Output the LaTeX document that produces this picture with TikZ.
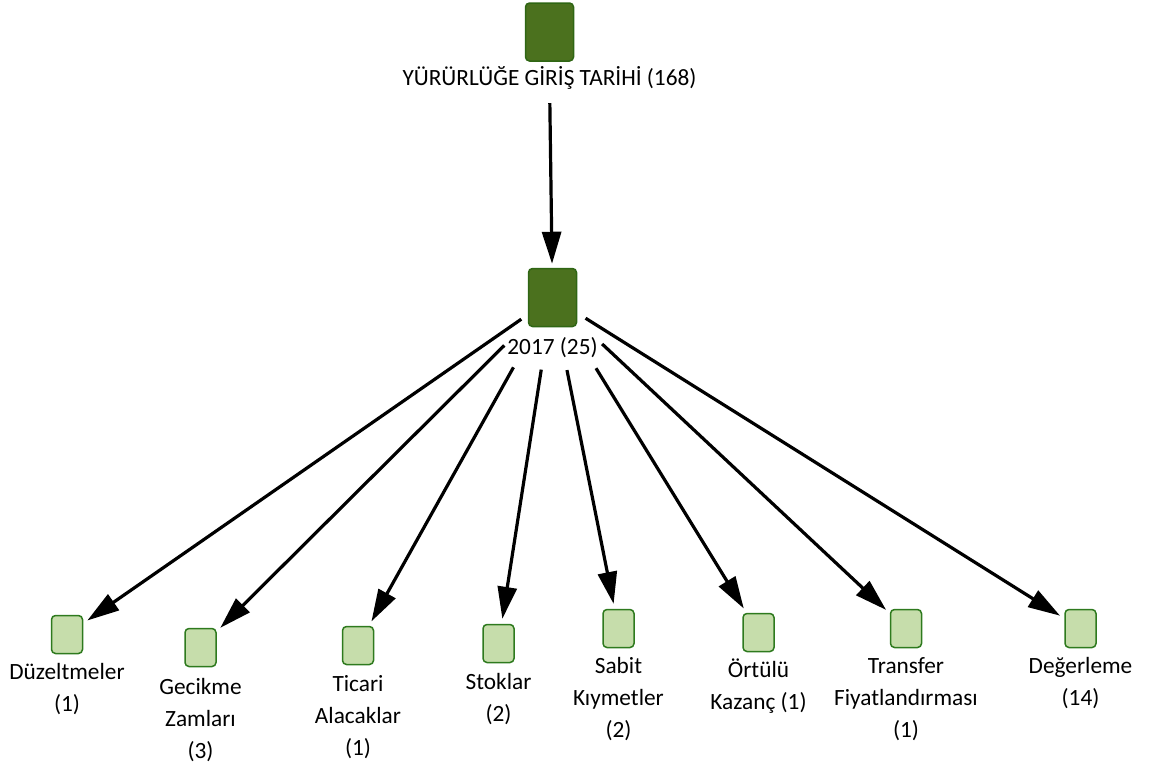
\documentclass[tikz,border=0pt]{standalone}
\usepackage{fontspec}
\setmainfont{Carlito}
\usetikzlibrary{arrows.meta, positioning}
\definecolor{TreeDark}{HTML}{4B711E}
\definecolor{TreeDarkLine}{HTML}{2F6614}
\definecolor{TreeLight}{HTML}{C6DDAB}
\definecolor{TreeLightLine}{HTML}{2E7A1E}
\definecolor{TreeBlack}{HTML}{000000}
\tikzset{
    % Parent box style
    parentbox/.style={
        rectangle,
        rounded corners=4pt,
        draw=TreeDarkLine,
        fill=TreeDark,
        line width=1.5pt,
        minimum width=48pt,
        minimum height=58pt,
        inner sep=0pt
    },
    % Leaf box style
    leafbox/.style={
        rectangle,
        rounded corners=4pt,
        draw=TreeLightLine,
        fill=TreeLight,
        line width=1.5pt,
        minimum width=31pt,
        minimum height=38pt,
        inner sep=0pt
    },
    % Label style
    lbl/.style={
        align=center,
        inner sep=0pt,
        font=\fontsize{23.3}{32}\selectfont
    },
    % Arrow style
    arrow/.style={
        -{Triangle[length=32pt,width=19pt]},
        line width=3.2pt,
        color=TreeBlack
    }
}

\begin{document}
\begin{tikzpicture}[x=1pt, y=-1pt]
    \useasboundingbox (0,0) rectangle (1150,769);

    % Top levels
    \node (root) [parentbox] at (549.5,32) {};
    \node (rootlbl) [lbl, below=1pt of root] {\strut YÜRÜRLÜĞE GİRİŞ TARİHİ (168)};

    \node (y17) [parentbox] at (552.5,297.5) {};
    \node (y17lbl) [lbl, below=5pt of y17] {\strut 2017 (25)};

    % Leaves
    \node (duz) [leafbox] at (67,634.5) {};
    \node (duzlbl) [lbl, below=3pt of duz] {\strut Düzeltmeler\\(1)};

    \node (gec) [leafbox] at (200.5,647.5) {};
    \node (geclbl) [lbl, below=5pt of gec] {\strut Gecikme\\Zamları\\(3)};

    \node (tic) [leafbox] at (358,645.5) {};
    \node (ticlbl) [lbl, below=4pt of tic] {\strut Ticari\\Alacaklar\\(1)};

    \node (stok) [leafbox] at (498.5,643.5) {};
    \node (stoklbl) [lbl, below=4pt of stok] {\strut Stoklar\\(2)};

    \node (sabit) [leafbox] at (618.5,628.5) {};
    \node (sabitlbl) [lbl, below=3pt of sabit] {\strut Sabit\\Kıymetler\\(2)};

    \node (ortulu) [leafbox] at (758.5,632.5) {};
    \node (ortululbl) [lbl, below=3pt of ortulu] {\strut Örtülü\\Kazanç (1)};

    \node (transfer) [leafbox] at (906,628.5) {};
    \node (transferlbl) [lbl, below=3pt of transfer] {\strut Transfer\\Fiyatlandırması\\(1)};

    \node (deger) [leafbox] at (1080.5,628.5) {};
    \node (degerlbl) [lbl, below=3pt of deger] {\strut Değerleme\\(14)};

    \draw [arrow, shorten <=8pt, shorten >=4pt] (rootlbl) -- (y17);

    \draw [arrow, shorten <=38pt, shorten >=5pt] (y17.center) -- (duz);
    \draw [arrow, shorten <=68pt, shorten >=5pt] (y17.center) -- (gec);
    \draw [arrow, shorten <=80pt, shorten >=5pt] (y17.center) -- (tic);
    \draw [arrow, shorten <=73pt, shorten >=5pt] (y17.center) -- (stok);
    \draw [arrow, shorten <=74pt, shorten >=5pt] (y17.center) -- (sabit);
    \draw [arrow, shorten <=83pt, shorten >=5pt] (y17.center) -- (ortulu);
    \draw [arrow, shorten <=68pt, shorten >=5pt] (y17.center) -- (transfer);
    \draw [arrow, shorten <=39pt, shorten >=5pt] (y17.center) -- (deger);
\end{tikzpicture}
\end{document}
